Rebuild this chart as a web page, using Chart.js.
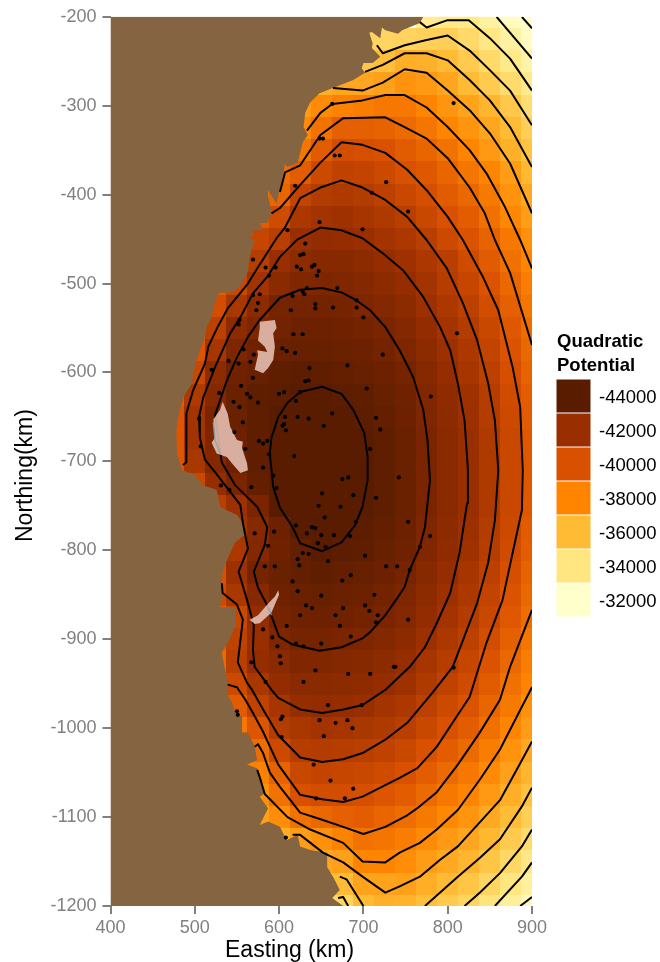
<!DOCTYPE html>
<html>
<head>
<meta charset="utf-8">
<title>Quadratic Potential</title>
<script src="https://cdn.jsdelivr.net/npm/chart.js@4/dist/chart.umd.js"></script>
<style>
html, body { margin: 0; padding: 0; background: #fff; }
canvas { display: block; }
</style>
</head>
<body>
<canvas id="map" width="660" height="962"></canvas>
<script>
// potential per cell, in hundreds. 25 km cells, each row ends at easting 900, cells under land left out
var northings = [-200,-225,-250,-275,-300,-325,-350,-375,-400,-425,-450,-475,-500,-525,-550,-575,-600,-625,-650,-675,-700,-725,-750,-775,-800,-825,-850,-875,-900,-925,-950,-975,-1000,-1025,-1050,-1075,-1100,-1125,-1150,-1175,-1200];
var potentialRows = [
  [-335,-338,-338,-331,-323,-315],
  [-349,-348,-349,-350,-351,-346,-339,-331,-323],
  [-355,-358,-365,-364,-360,-353,-346,-338,-330],
  [-365,-368,-368,-370,-375,-373,-368,-360,-353,-345,-337],
  [-372,-378,-381,-383,-385,-385,-380,-374,-369,-362,-354,-344],
  [-378,-387,-394,-394,-393,-390,-386,-380,-374,-368,-360,-351],
  [-386,-396,-402,-401,-400,-396,-392,-387,-380,-373,-364,-356],
  [-389,-395,-404,-408,-407,-404,-400,-397,-392,-386,-380,-371,-361],
  [-385,-392,-407,-412,-413,-412,-409,-405,-401,-396,-391,-384,-375,-367],
  [-396,-403,-414,-417,-418,-416,-413,-410,-405,-400,-395,-388,-379,-371],
  [-390,-406,-410,-420,-422,-421,-420,-417,-414,-410,-404,-399,-393,-385,-376],
  [-400,-411,-420,-424,-426,-426,-424,-421,-418,-414,-410,-403,-396,-388,-380],
  [-395,-405,-417,-425,-428,-429,-428,-427,-424,-421,-417,-411,-406,-399,-391,-383],
  [-402,-415,-424,-431,-432,-432,-431,-429,-427,-424,-419,-414,-409,-402,-394,-386],
  [-397,-409,-424,-429,-432,-434,-434,-433,-432,-430,-427,-422,-417,-412,-405,-397,-389],
  [-398,-416,-429,-433,-435,-436,-436,-435,-434,-432,-429,-424,-419,-414,-407,-399,-391],
  [-405,-424,-433,-436,-438,-439,-438,-437,-436,-434,-431,-426,-421,-416,-409,-401,-393],
  [-395,-413,-427,-435,-438,-439,-440,-440,-439,-438,-436,-433,-428,-423,-418,-411,-403,-395],
  [-398,-417,-430,-435,-438,-440,-441,-441,-440,-439,-437,-434,-429,-424,-419,-412,-404,-396],
  [-398,-417,-429,-434,-438,-441,-442,-442,-441,-440,-438,-435,-430,-425,-420,-413,-405,-397],
  [-398,-415,-427,-434,-438,-441,-442,-442,-441,-440,-438,-435,-430,-425,-420,-413,-405,-397],
  [-398,-405,-421,-430,-437,-441,-442,-442,-441,-440,-438,-435,-430,-425,-420,-413,-405,-397],
  [-410,-419,-430,-440,-442,-442,-441,-440,-438,-435,-430,-425,-420,-413,-405,-397],
  [-417,-426,-434,-441,-441,-440,-439,-437,-434,-429,-424,-419,-412,-404,-396],
  [-414,-427,-433,-437,-440,-439,-438,-436,-433,-428,-423,-418,-411,-403,-395],
  [-400,-419,-431,-435,-437,-438,-437,-436,-434,-431,-426,-421,-416,-409,-401,-393],
  [-403,-415,-426,-433,-435,-436,-435,-434,-432,-429,-424,-419,-414,-407,-399,-391],
  [-395,-405,-422,-431,-433,-434,-433,-432,-430,-427,-422,-417,-412,-405,-397,-389],
  [-395,-408,-420,-429,-431,-431,-430,-429,-427,-424,-419,-414,-409,-402,-394,-386],
  [-390,-410,-421,-425,-428,-428,-427,-426,-424,-421,-416,-411,-406,-399,-391,-383],
  [-393,-404,-415,-422,-425,-425,-424,-423,-421,-418,-413,-408,-403,-396,-388,-380],
  [-396,-408,-416,-421,-422,-421,-420,-417,-414,-409,-404,-399,-392,-384,-376],
  [-385,-398,-412,-415,-417,-416,-415,-413,-410,-405,-400,-395,-388,-380,-372],
  [-375,-389,-404,-411,-412,-411,-410,-408,-405,-400,-395,-390,-383,-375,-367],
  [-370,-381,-393,-405,-407,-406,-405,-403,-400,-395,-390,-385,-378,-370,-362],
  [-376,-387,-400,-402,-402,-401,-398,-395,-390,-385,-380,-373,-365,-357],
  [-370,-377,-387,-391,-394,-395,-392,-389,-384,-379,-374,-367,-359,-351],
  [-365,-371,-376,-381,-387,-386,-383,-378,-373,-368,-361,-353,-345],
  [-360,-368,-370,-380,-380,-377,-372,-367,-362,-355,-347,-339],
  [-352,-360,-369,-369,-370,-365,-360,-355,-348,-340,-332],
  [-340,-348,-360,-364,-363,-358,-353,-348,-341,-333,-325]
];

var legendLevels = [-44000,-42000,-40000,-38000,-36000,-34000,-32000];
var legendColors = ["#5a1c00","#992e00","#d95000","#ff8500","#ffbb33","#ffe680","#ffffcc"];

var xTicks = [400,500,600,700,800,900];
var yTicks = [-200,-300,-400,-500,-600,-700,-800,-900,-1000,-1100,-1200];

// coastline north to south, land is everything west of it
var coast = [[771,-200],[767,-207],[746,-215],[741,-219],[726,-215],[722,-212],[720,-224],[710,-217],[707,-218],[711,-230],[710,-235],[720,-245],[711,-252],[700,-252],[698,-258],[702,-263],[688,-271],[672,-277],[648,-286],[637,-296],[631,-308],[629,-324],[634,-333],[628,-341],[625,-353],[622,-364],[609,-369],[607,-365],[605,-376],[597,-410],[587,-395],[587,-401],[591,-421],[586,-432],[577,-432],[581,-440],[568,-440],[571,-446],[562,-448],[571,-451],[565,-470],[563,-487],[556,-500],[545,-510],[530,-510],[526,-515],[522,-528],[520,-538],[514,-549],[512,-560],[506,-575],[498,-601],[497,-612],[488,-625],[482,-642],[478,-665],[479,-691],[485,-710],[500,-715],[510,-727],[526,-732],[530,-751],[538,-755],[550,-760],[559,-772],[559,-783],[548,-791],[539,-809],[533,-825],[532,-837],[533,-852],[530,-864],[548,-865],[548,-886],[539,-904],[532,-915],[536,-935],[539,-949],[539,-963],[544,-971],[548,-983],[556,-987],[556,-1005],[563,-1005],[571,-1021],[574,-1036],[562,-1041],[574,-1045],[583,-1073],[577,-1077],[587,-1090],[577,-1109],[587,-1105],[601,-1111],[609,-1126],[622,-1120],[625,-1133],[637,-1137],[657,-1140],[657,-1156],[664,-1167],[672,-1182],[663,-1191],[676,-1200],[400,-1200],[400,-200]];

// lakes
var lakeNorth = [[577,-543],[595,-541],[597,-550],[593,-556],[595,-571],[593,-586],[587,-595],[581,-601],[571,-597],[575,-580],[574,-575],[586,-577],[583,-571],[575,-564],[577,-550]];
var lakeWest = [[533,-633],[539,-646],[542,-661],[550,-676],[557,-678],[556,-685],[562,-702],[563,-710],[554,-713],[544,-702],[538,-695],[526,-691],[520,-679],[524,-673],[522,-653],[530,-642]];
var lakeSouth = [[599,-845],[600,-850],[595,-861],[591,-870],[577,-882],[571,-883],[565,-878],[575,-873],[586,-861],[595,-852]];
var shoreWest = [[522,-656],[524,-676],[530,-691]];
var shoreSouth = [[587,-864],[591,-873]];

// contours every 1000
var c44000 = [[625,-622],[651,-616],[674,-624],[688,-642],[701,-668],[705,-695],[705,-721],[699,-751],[690,-772],[674,-791],[651,-801],[625,-792],[616,-774],[601,-752],[593,-729],[589,-691],[591,-673],[599,-650],[610,-634],[625,-622]];
var c43000 = [[651,-505],[674,-510],[692,-519],[708,-530],[726,-549],[743,-575],[759,-605],[771,-642],[776,-676],[779,-721],[773,-774],[767,-796],[755,-822],[749,-841],[740,-854],[726,-873],[708,-892],[699,-899],[674,-909],[648,-913],[616,-906],[600,-897],[587,-864],[575,-842],[570,-824],[583,-794],[586,-774],[574,-751],[548,-727],[532,-701],[524,-648],[538,-609],[550,-583],[563,-560],[577,-541],[601,-516],[625,-507],[651,-505]];
var c42000 = [[674,-440],[649,-437],[621,-451],[601,-470],[587,-491],[569,-511],[554,-538],[542,-556],[524,-594],[510,-628],[505,-650],[506,-673],[512,-698],[524,-712],[554,-749],[557,-769],[563,-798],[552,-824],[562,-856],[570,-884],[569,-912],[571,-931],[591,-957],[599,-966],[625,-979],[651,-983],[676,-979],[699,-974],[726,-957],[735,-949],[755,-931],[773,-909],[787,-882],[803,-848],[814,-803],[823,-747],[824,-710],[820,-654],[812,-612],[803,-575],[791,-549],[771,-515],[747,-485],[723,-466],[699,-449],[674,-440]];
var c41000 = [[532,-837],[533,-848],[550,-861],[557,-878],[551,-926],[562,-949],[568,-957],[581,-979],[599,-1008],[625,-1033],[651,-1038],[676,-1035],[699,-1028],[726,-1013],[752,-994],[782,-960],[806,-931],[835,-859],[848,-814],[856,-766],[860,-710],[856,-654],[848,-612],[835,-564],[818,-522],[799,-483],[775,-451],[752,-425],[726,-406],[699,-392],[674,-384],[649,-392],[625,-404],[607,-437],[597,-449],[574,-483],[563,-500],[539,-528],[527,-549],[516,-571],[512,-590],[498,-620],[490,-646],[490,-701],[486,-704]];
var c40000 = [[539,-951],[550,-954],[560,-968],[569,-983],[581,-1004],[599,-1041],[625,-1075],[651,-1080],[676,-1083],[699,-1077],[726,-1064],[743,-1056],[764,-1045],[787,-1021],[812,-985],[826,-965],[846,-904],[865,-856],[877,-803],[888,-755],[889,-710],[886,-639],[877,-594],[860,-530],[842,-493],[818,-451],[800,-425],[775,-395],[752,-372],[726,-353],[699,-344],[674,-341],[649,-364],[625,-389],[601,-415],[591,-421]];
var c39000s = [[571,-1021],[575,-1018],[581,-1028],[589,-1050],[601,-1066],[625,-1095],[651,-1103],[676,-1111],[700,-1119],[726,-1111],[752,-1098],[764,-1090],[787,-1072],[812,-1041],[838,-1005],[862,-968],[874,-931],[900,-867]];
var c39000n = [[900,-569],[874,-488],[856,-451],[844,-421],[826,-392],[800,-359],[775,-337],[749,-324],[726,-313],[676,-314],[649,-333],[625,-367],[607,-375],[601,-397]];
var c38000s = [[574,-1047],[577,-1055],[583,-1074],[610,-1100],[637,-1114],[676,-1129],[699,-1150],[726,-1151],[743,-1140],[767,-1129],[787,-1114],[812,-1092],[838,-1058],[862,-1024],[888,-976],[900,-954]];
var c38000n = [[900,-483],[886,-451],[868,-414],[846,-376],[826,-350],[800,-324],[775,-302],[749,-288],[726,-288],[699,-294],[663,-298],[649,-308],[633,-328]];
var c37000s = [[616,-1120],[625,-1120],[652,-1140],[676,-1151],[699,-1167],[726,-1185],[743,-1178],[767,-1167],[791,-1148],[812,-1133],[838,-1106],[862,-1081],[888,-1036],[900,-1015]];
var c37000n = [[900,-421],[874,-365],[850,-331],[826,-305],[800,-283],[775,-263],[749,-259],[723,-274],[699,-283],[664,-280]];
var c36000a = [[672,-1167],[680,-1170],[700,-1200]];
var c36000b = [[773,-1200],[812,-1167],[838,-1146],[862,-1125],[888,-1088],[900,-1067]];
var c36000n = [[900,-369],[874,-324],[850,-294],[826,-271],[800,-249],[775,-241],[749,-241],[723,-254],[702,-262]];
var c35000a = [[670,-1191],[676,-1190],[682,-1200]];
var c35000b = [[820,-1200],[838,-1185],[862,-1163],[888,-1133],[900,-1114]];
var c35000n = [[900,-322],[874,-283],[850,-260],[826,-238],[800,-221],[775,-226],[749,-232],[723,-241],[716,-232]];
var c34000s = [[856,-1200],[888,-1167],[900,-1151]];
var c34000n = [[900,-283],[874,-247],[850,-224],[825,-204],[799,-204],[775,-212],[767,-206]];
var c33000s = [[886,-1200],[900,-1190]];
var c33000n = [[900,-247],[858,-200]];
var c32000n = [[900,-213],[888,-200]];

var contourLines = [c44000,c43000,c42000,c41000,c40000,c39000s,c39000n,c38000s,c38000n,c37000s,c37000n,c36000a,c36000b,c36000n,c35000a,c35000b,c35000n,c34000s,c34000n,c33000s,c33000n,c32000n];

// borehole dots
var dots = [[631,-455],[625,-468],[629,-467],[569,-473],[584,-482],[596,-482],[621,-481],[626,-484],[639,-481],[642,-479],[647,-486],[645,-491],[588,-491],[569,-513],[577,-512],[575,-522],[573,-530],[633,-505],[669,-505],[628,-509],[630,-512],[616,-514],[692,-519],[643,-523],[643,-528],[614,-530],[664,-527],[692,-527],[700,-538],[553,-541],[552,-546],[617,-557],[628,-557],[604,-573],[609,-576],[619,-578],[558,-574],[570,-580],[540,-587],[552,-590],[566,-588],[681,-592],[636,-595],[520,-597],[569,-606],[631,-610],[635,-609],[704,-618],[555,-615],[529,-623],[606,-622],[600,-624],[562,-624],[566,-628],[625,-622],[620,-632],[546,-633],[575,-634],[553,-639],[607,-650],[622,-650],[635,-652],[663,-646],[715,-651],[505,-652],[557,-656],[606,-658],[604,-660],[653,-660],[608,-665],[720,-664],[547,-667],[576,-677],[581,-680],[586,-677],[507,-683],[560,-686],[708,-686],[618,-694],[588,-692],[581,-707],[593,-716],[682,-718],[675,-720],
[531,-727],[541,-732],[567,-729],[597,-730],[651,-736],[688,-738],[715,-741],[647,-750],[673,-751],[654,-763],[691,-768],[620,-772],[639,-774],[643,-775],[633,-781],[650,-783],[665,-783],[684,-784],[571,-781],[594,-779],[646,-792],[655,-796],[587,-795],[628,-803],[635,-804],[702,-806],[622,-810],[658,-812],[624,-817],[583,-818],[595,-818],[685,-828],[675,-834],[616,-835],[622,-846],[713,-850],[650,-851],[632,-862],[639,-865],[676,-865],[702,-862],[707,-868],[717,-873],[625,-873],[667,-873],[715,-881],[609,-885],[672,-885],[581,-889],[592,-898],[685,-897],[598,-908],[620,-905],[629,-908],[650,-905],[601,-919],[602,-927],[567,-926],[643,-935],[682,-939],[708,-939],[584,-948],[629,-948],
[658,-974],[698,-974],[604,-987],[602,-990],[648,-991],[667,-994],[681,-991],[687,-1000],[653,-1009],[603,-1010],[641,-1041],[661,-1059],[688,-1068],[644,-1079],[678,-1079],[550,-981],[551,-985],[608,-1123],
[652,-337],[648,-337],[666,-356],[672,-356],[663,-298],[807,-297],[727,-386],[710,-398],[753,-419],[699,-439],[648,-431],[619,-390],[610,-440],
[811,-556],[723,-580],[780,-627],[742,-718],[753,-768],[779,-784],[767,-796],[727,-818],[740,-818],[755,-822],[753,-878],[736,-931],[738,-931],[807,-932]];

function pts(list) {
  return list.map(function (p) { return { x: p[0], y: p[1] }; });
}

function hexRgb(h) {
  return [parseInt(h.substr(1, 2), 16), parseInt(h.substr(3, 2), 16), parseInt(h.substr(5, 2), 16)];
}

// same ramp as the legend
function potentialColor(v) {
  var i = 0;
  while (i < legendLevels.length - 2 && v > legendLevels[i + 1]) i++;
  var t = (v - legendLevels[i]) / (legendLevels[i + 1] - legendLevels[i]);
  t = Math.max(0, Math.min(1, t));
  var a = hexRgb(legendColors[i]), b = hexRgb(legendColors[i + 1]);
  return "rgb(" + Math.round(a[0] + (b[0] - a[0]) * t) + "," + Math.round(a[1] + (b[1] - a[1]) * t) + "," + Math.round(a[2] + (b[2] - a[2]) * t) + ")";
}

var cellsPlugin = {
  id: "cells",
  beforeDatasetsDraw: function (chart) {
    var ctx = chart.ctx, xs = chart.scales.x, ys = chart.scales.y, area = chart.chartArea;
    ctx.save();
    ctx.beginPath();
    ctx.rect(area.left, area.top, area.right - area.left, area.bottom - area.top);
    ctx.clip();
    potentialRows.forEach(function (row, r) {
      var y0 = Math.round(ys.getPixelForValue(northings[r] + 12.5));
      var y1 = Math.round(ys.getPixelForValue(northings[r] - 12.5));
      row.forEach(function (v, c) {
        var easting = 900 - 25 * (row.length - 1 - c);
        var x0 = Math.round(xs.getPixelForValue(easting - 12.5));
        var x1 = Math.round(xs.getPixelForValue(easting + 12.5));
        ctx.fillStyle = potentialColor(v * 100);
        ctx.fillRect(x0, y0, x1 - x0, y1 - y0);
      });
    });
    ctx.restore();
  }
};

// legend and the two axis titles, the titles sit off centre in the original
var legendPlugin = {
  id: "potentialLegend",
  afterDraw: function (chart) {
    var ctx = chart.ctx;
    ctx.save();
    ctx.fillStyle = "#000";
    ctx.textAlign = "left";
    ctx.textBaseline = "alphabetic";
    ctx.font = "bold 18.5px 'Liberation Sans'";
    ctx.fillText("Quadratic", 557, 347);
    ctx.fillText("Potential", 557, 371);
    ctx.font = "18.5px 'Liberation Sans'";
    legendLevels.forEach(function (lev, i) {
      var top = 379.5 + i * 34;
      ctx.fillStyle = legendColors[i];
      ctx.fillRect(556.5, top, 34, 33);
      ctx.fillStyle = "#000";
      ctx.fillText(String(lev), 599, top + 23);
    });
    ctx.font = "23px 'Liberation Sans'";
    ctx.fillText("Easting (km)", 225, 957);
    ctx.translate(32, 542);
    ctx.rotate(-Math.PI / 2);
    ctx.fillText("Northing(km)", 0, 0);
    ctx.restore();
  }
};

var datasets = [];
datasets.push({ data: pts(coast), showLine: true, fill: "shape", backgroundColor: "#856541", borderWidth: 0, pointRadius: 0, order: 5 });
contourLines.forEach(function (line) {
  datasets.push({ data: pts(line), showLine: true, fill: false, borderColor: "#000", borderWidth: 2, borderJoinStyle: "round", pointRadius: 0, order: 4 });
});
[lakeNorth, lakeWest, lakeSouth].forEach(function (lake) {
  datasets.push({ data: pts(lake.concat([lake[0]])), showLine: true, fill: "shape", backgroundColor: "rgba(234,199,187,0.85)", borderWidth: 0, pointRadius: 0, order: 3 });
});
[shoreWest, shoreSouth].forEach(function (line) {
  datasets.push({ data: pts(line), showLine: true, fill: false, borderColor: "rgba(140,165,180,0.85)", borderWidth: 1.5, pointRadius: 0, order: 2 });
});
datasets.push({ data: pts(dots), showLine: false, backgroundColor: "#000", borderWidth: 0, pointRadius: 2.1, order: 1 });

new Chart(document.getElementById("map"), {
  type: "scatter",
  data: { datasets: datasets },
  plugins: [cellsPlugin, legendPlugin],
  options: {
    responsive: false,
    animation: false,
    events: [],
    layout: { padding: { top: 16.5, right: 128, left: 0, bottom: 0 } },
    plugins: { legend: { display: false }, tooltip: { enabled: false } },
    scales: {
      x: {
        type: "linear", min: 400, max: 900,
        afterBuildTicks: function (s) { s.ticks = xTicks.map(function (v) { return { value: v }; }); },
        afterFit: function (s) { s.height = 56; },
        grid: { drawOnChartArea: false, color: "#7f7f7f", lineWidth: 2, tickLength: 8 },
        border: { display: false },
        ticks: { color: "#7f7f7f", font: { family: "'Liberation Sans'", size: 18 }, padding: 3, maxRotation: 0,
          callback: function (v) { return String(v); } }
      },
      y: {
        type: "linear", min: -1200, max: -200,
        afterBuildTicks: function (s) { s.ticks = yTicks.map(function (v) { return { value: v }; }); },
        afterFit: function (s) { s.width = 110.5; },
        grid: { drawOnChartArea: false, color: "#7f7f7f", lineWidth: 2, tickLength: 8 },
        border: { display: false },
        ticks: { color: "#7f7f7f", font: { family: "'Liberation Sans'", size: 18 }, padding: 6,
          callback: function (v) { return String(v); } }
      }
    }
  }
});
</script>
</body>
</html>
